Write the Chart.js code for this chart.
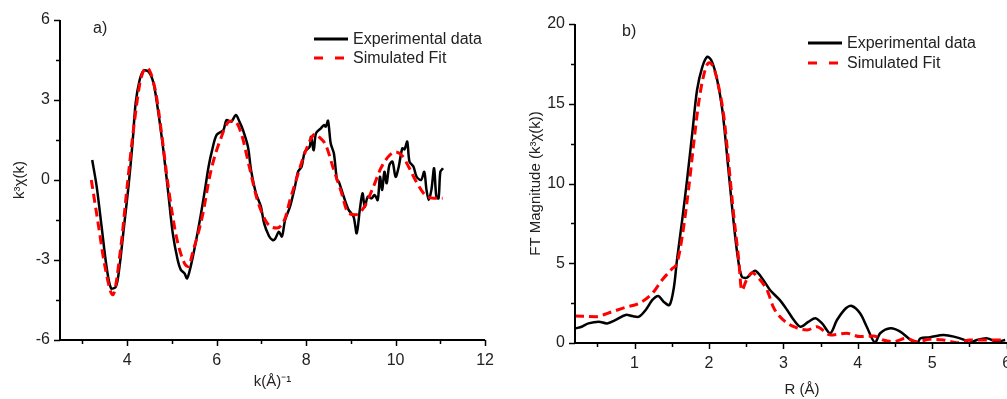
<!DOCTYPE html>
<html>
<head>
<meta charset="utf-8">
<script src="https://cdn.jsdelivr.net/npm/chart.js@4.4.0/dist/chart.umd.min.js"></script>
<style>
html, body { margin: 0; padding: 0; background: #fff; overflow: hidden; width: 1007px; height: 399px; }
#left { position: absolute; left: 0; top: 0; width: 505px; height: 399px; }
#right { position: absolute; left: 505px; top: 0; width: 535px; height: 399px; }
</style>
</head>
<body>
<div id="left"><canvas id="chartA"></canvas></div>
<div id="right"><canvas id="chartB"></canvas></div>
<script>
// a) k-space EXAFS
const kExp = [3.22,3.32,3.43,3.54,3.64,3.75,3.83,3.93,4.03,4.12,4.19,4.28,4.37,4.48,4.59,4.70,4.81,4.92,5.02,5.13,
  5.2,5.28,5.34,5.42,5.53,5.64,5.75,5.82,5.9,6.0,6.15,6.22,6.33,6.43,6.51,6.59,6.7,6.77,6.88,6.99,
  7.06,7.17,7.25,7.31,7.39,7.46,7.53,7.64,7.75,7.82,7.9,7.97,8.08,8.11,8.17,8.22,8.33,8.40,8.44,8.49,
  8.55,8.62,8.69,8.73,8.84,8.95,9.06,9.13,9.2,9.26,9.31,9.38,9.46,9.53,9.6,9.65,9.70,9.75,9.8,9.86,
  9.93,10.0,10.07,10.15,10.2,10.26,10.31,10.4,10.47,10.57,10.64,10.69,10.74,10.8,10.86,10.91,10.96,11.0,11.06];
const chiExp = [0.75,-0.25,-1.75,-3.25,-4.06,-4.0,-3.25,-1.75,-0.25,1.37,2.87,3.75,4.1,4.06,3.63,2.5,1.12,-0.5,-2.0,-3.0,
  -3.37,-3.5,-3.69,-3.25,-2.37,-1.37,-0.25,0.5,1.12,1.69,1.87,2.25,2.19,2.44,2.19,1.87,1.25,0.37,-0.5,-1.0,
  -1.62,-2.1,-2.25,-2.2,-1.94,-2.12,-1.5,-1.0,-0.25,0.31,0.5,1.06,1.25,1.62,1.12,1.75,1.94,2.06,2.0,2.22,
  1.37,1.0,0,-0.06,-0.62,-1.12,-1.37,-2.0,-1.12,-0.5,-1.0,-0.62,-0.69,-0.56,-0.75,0.12,-0.37,0.31,-0.12,0.56,
  0.69,0.12,0.5,1.19,1.15,1.44,0.69,0.5,0.12,0,0.31,-0.37,-0.75,-0.37,0.44,-0.62,-0.69,0.31,0.44];
const kFit = [3.2,3.35,3.5,3.68,3.86,4.0,4.15,4.3,4.44,4.63,4.77,4.92,5.1,5.28,5.37,5.46,5.68,5.86,6.08,6.3,
  6.4,6.55,6.73,6.91,7.13,7.35,7.53,7.64,7.79,7.93,8.11,8.2,8.3,8.44,8.62,8.77,8.95,9.1,9.28,9.49,
  9.67,9.85,10.0,10.15,10.29,10.44,10.66,10.85,11.05];
const chiFit = [0,-1.6,-3.2,-4.3,-2.5,-0.25,2.0,3.75,4.2,3.37,1.75,-0.25,-2.12,-3.12,-3.25,-2.75,-1.37,0.25,1.5,2.2,
  2.2,1.75,0.5,-0.75,-1.62,-1.8,-1.44,-0.75,0.06,0.81,1.56,1.72,1.6,1.31,0.37,-0.37,-1.25,-1.3,-1.06,-0.31,
  0.44,0.9,1.05,0.9,0.5,0,-0.56,-0.68,-0.68];
const kTicks = [4, 6, 8, 10, 12];
const chiTicks = [-6, -3, 0, 3, 6];

// b) Fourier transform
const rExp = [0.21,0.29,0.38,0.52,0.63,0.74,0.88,0.97,1.06,1.15,1.24,1.32,1.39,1.47,1.53,1.57,1.64,1.71,1.78,1.84,
  1.91,1.98,2.04,2.11,2.18,2.24,2.31,2.38,2.44,2.51,2.62,2.73,2.82,2.95,3.05,3.14,3.23,3.34,3.43,3.52,
  3.63,3.72,3.84,3.92,4.03,4.12,4.23,4.3,4.44,4.57,4.71,4.8,4.84,4.97,5.15,5.29,5.43,5.49,5.6,5.74,5.87,5.98];
const ftExp = [0.92,1.02,1.23,1.34,1.23,1.44,1.76,1.69,1.65,2.07,2.7,2.95,2.59,2.38,3.53,5.2,7.7,10.4,13.35,15.86,
  17.3,17.95,17.64,16.5,14.6,11.9,8.55,5.62,4.16,4.1,4.53,3.95,3.32,2.7,2.07,1.44,1.02,1.34,1.55,1.23,
  0.61,1.44,2.18,2.32,1.86,1.02,0.02,0.61,0.92,0.71,0.19,0.02,0.29,0.36,0.5,0.4,0.19,0,0.19,0.29,0.08,0.19];
const rFit = [0.2,0.48,0.66,0.88,1.06,1.24,1.37,1.51,1.57,1.64,1.73,1.79,1.86,1.93,2.0,2.06,2.13,2.2,2.26,2.33,
  2.4,2.44,2.5,2.58,2.66,2.78,2.87,3.0,3.14,3.32,3.45,3.63,3.85,4.03,4.21,4.34,4.47,4.65,4.8,4.97,
  5.15,5.33,5.51,5.69,5.87,5.98];
const ftFit = [1.7,1.65,1.9,2.24,2.49,3.12,3.95,4.68,5.0,6.66,9.8,12.3,15.0,16.8,17.57,17.3,16.07,14.2,11.5,8.13,
  5.2,3.3,3.9,4.4,4.1,3.32,2.2,1.44,1.02,0.82,1.02,0.5,0.61,0.4,0.44,0.19,0.08,0.29,0.08,0.23,
  0.19,0.02,0.19,0.19,0.19,0.19];
const rTicks = [1, 2, 3, 4, 5, 6];
const ftTicks = [0, 5, 10, 15, 20];

const seriesNames = ['Experimental data', 'Simulated Fit'];

Chart.defaults.font.family = '"Liberation Sans", Arial, sans-serif';
Chart.defaults.color = '#222';

function toPoints(xs, ys) {
  return xs.map((x, i) => ({ x: x, y: ys[i] }));
}

// axis lines, major/minor ticks, panel letter and the in-plot legend
const decor = {
  id: 'decor',
  afterDraw(chart, args, opts) {
    const ctx = chart.ctx;
    const area = chart.chartArea;
    const xs = chart.scales.x, ys = chart.scales.y;
    ctx.save();
    ctx.strokeStyle = '#000';
    ctx.lineWidth = 2;
    ctx.beginPath();
    ctx.moveTo(area.left, area.top);
    ctx.lineTo(area.left, area.bottom);
    ctx.lineTo(area.right, area.bottom);
    ctx.stroke();

    ctx.lineWidth = 1.5;
    const isMajor = (v, major) => Math.abs(v / major - Math.round(v / major)) < 1e-6;
    let i0 = Math.ceil(xs.min / opts.xMinor - 1e-9);
    for (let i = i0; i * opts.xMinor <= xs.max + 1e-9; i++) {
      const v = i * opts.xMinor;
      const px = Math.round(xs.getPixelForValue(v)) + 0.5;
      const len = isMajor(v, opts.xMajor) ? 6 : 4;
      ctx.beginPath();
      ctx.moveTo(px, area.bottom);
      ctx.lineTo(px, area.bottom + len);
      ctx.stroke();
    }
    i0 = Math.ceil(ys.min / opts.yMinor - 1e-9);
    for (let i = i0; i * opts.yMinor <= ys.max + 1e-9; i++) {
      const v = i * opts.yMinor;
      const py = Math.round(ys.getPixelForValue(v)) + 0.5;
      const len = isMajor(v, opts.yMajor) ? 6 : 4;
      ctx.beginPath();
      ctx.moveTo(area.left, py);
      ctx.lineTo(area.left - len, py);
      ctx.stroke();
    }

    ctx.font = '16px "Liberation Sans", Arial, sans-serif';
    ctx.fillStyle = '#222';
    ctx.textBaseline = 'middle';
    ctx.textAlign = 'left';
    ctx.fillText(opts.letter, opts.letterX, opts.letterY);

    const lg = opts.legend;
    ctx.lineWidth = 3;
    ctx.strokeStyle = '#000';
    ctx.beginPath();
    ctx.moveTo(lg.x, lg.y1);
    ctx.lineTo(lg.x + 34, lg.y1);
    ctx.stroke();
    ctx.strokeStyle = '#f00';
    ctx.setLineDash([9, 12]);
    ctx.beginPath();
    ctx.moveTo(lg.x, lg.y2);
    ctx.lineTo(lg.x + 32, lg.y2);
    ctx.stroke();
    ctx.setLineDash([]);
    ctx.fillText(seriesNames[0], lg.x + 39, lg.y1 + 1);
    ctx.fillText(seriesNames[1], lg.x + 39, lg.y2 + 1);
    ctx.restore();
  }
};

function makeDatasets(xe, ye, xf, yf) {
  return [
    { label: seriesNames[0], data: toPoints(xe, ye), borderColor: '#000', borderWidth: 2.5,
      pointRadius: 0, tension: 0.3, order: 1 },
    { label: seriesNames[1], data: toPoints(xf, yf), borderColor: '#f00', borderWidth: 3,
      borderDash: [9, 5], pointRadius: 0, cubicInterpolationMode: 'monotone', order: 0 }
  ];
}

function makeOptions(cfg) {
  return {
    responsive: true,
    maintainAspectRatio: false,
    animation: false,
    devicePixelRatio: 1,
    layout: { padding: cfg.padding },
    plugins: { legend: { display: false }, tooltip: { enabled: false }, decor: cfg.decor },
    scales: {
      x: {
        type: 'linear', min: cfg.xMin, max: cfg.xMax,
        grid: { display: false, drawTicks: false }, border: { display: false },
        ticks: { padding: 11, font: { size: 16 }, color: '#222' },
        afterBuildTicks: s => { s.ticks = cfg.xTicks.map(v => ({ value: v })); },
        afterFit: s => { s.height = cfg.xHeight; },
        title: { display: true, text: cfg.xTitle, font: { size: 15 }, color: '#222',
          padding: { top: 0, bottom: cfg.xTitlePad } }
      },
      y: {
        type: 'linear', min: cfg.yMin, max: cfg.yMax,
        grid: { display: false, drawTicks: false }, border: { display: false },
        ticks: { padding: 10, font: { size: 16 }, color: '#222' },
        afterBuildTicks: s => { s.ticks = cfg.yTicks.map(v => ({ value: v })); },
        afterFit: s => { s.width = cfg.yWidth; },
        title: { display: true, text: cfg.yTitle, font: { size: 15 }, color: '#222',
          padding: { top: cfg.yTitlePad, bottom: 0 } }
      }
    }
  };
}

new Chart(document.getElementById('chartA'), {
  type: 'line',
  data: { datasets: makeDatasets(kExp, chiExp, kFit, chiFit) },
  plugins: [decor],
  options: makeOptions({
    padding: { left: 0, right: 10, top: 20, bottom: 0 },
    xMin: 2.5, xMax: 12, yMin: -6, yMax: 6,
    xTicks: kTicks, yTicks: chiTicks,
    xHeight: 59, yWidth: 60,
    xTitle: 'k(Å)⁻¹', xTitlePad: 8,
    yTitle: 'k³χ(k)', yTitlePad: 11,
    decor: { xMajor: 2, xMinor: 1, yMajor: 3, yMinor: 1.5,
      letter: 'a)', letterX: 93, letterY: 29,
      legend: { x: 314, y1: 39, y2: 58 } }
  })
});

new Chart(document.getElementById('chartB'), {
  type: 'line',
  data: { datasets: makeDatasets(rExp, ftExp, rFit, ftFit) },
  plugins: [decor],
  options: makeOptions({
    padding: { left: 0, right: 11, top: 24, bottom: 0 },
    xMin: 0.2, xMax: 6.3, yMin: 0, yMax: 20,
    xTicks: rTicks, yTicks: ftTicks,
    xHeight: 56, yWidth: 70,
    xTitle: 'R (Å)', xTitlePad: 0,
    yTitle: 'FT Magnitude (k³χ(k))', yTitlePad: 22,
    decor: { xMajor: 1, xMinor: 0.5, yMajor: 5, yMinor: 2.5,
      letter: 'b)', letterX: 117, letterY: 32,
      legend: { x: 303, y1: 43, y2: 63 } }
  })
});
</script>
</body>
</html>
